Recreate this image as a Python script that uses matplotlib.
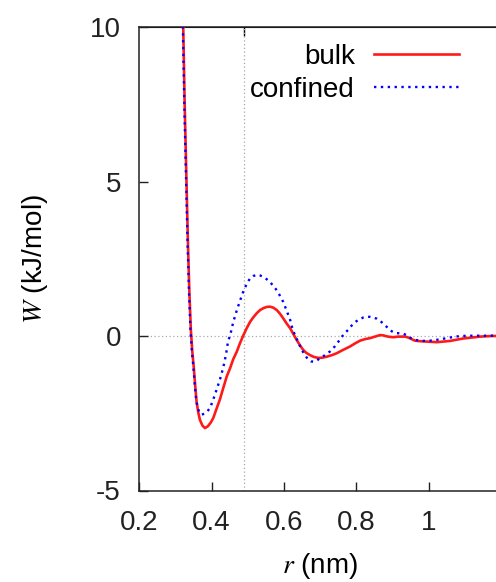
import numpy as np
import matplotlib
matplotlib.use("Agg")
import matplotlib.pyplot as plt

plt.rcParams['font.family'] = ['Liberation Sans', 'DejaVu Sans']
plt.rcParams['mathtext.fontset'] = 'stix'

# potential of mean force, bulk water
r_bulk = [0.316, 0.322, 0.326, 0.331, 0.335, 0.339, 0.343, 0.347, 0.351, 0.355,
          0.359, 0.364, 0.368, 0.375, 0.382, 0.390, 0.398, 0.405, 0.414, 0.423,
          0.432, 0.442, 0.451, 0.460, 0.470, 0.478, 0.487, 0.497, 0.506, 0.515,
          0.525, 0.534, 0.543, 0.552, 0.561, 0.570, 0.580, 0.589, 0.598, 0.607,
          0.617, 0.626, 0.635, 0.644, 0.653, 0.662, 0.672, 0.683, 0.695, 0.706,
          0.718, 0.732, 0.745, 0.763, 0.782, 0.796, 0.810, 0.824, 0.837, 0.851,
          0.865, 0.874, 0.883, 0.893, 0.902, 0.914, 0.925, 0.934, 0.943, 0.952,
          0.961, 0.977, 0.993, 1.007, 1.021, 1.040, 1.058, 1.076, 1.095, 1.118,
          1.141, 1.174, 1.200]
w_bulk = [12.0, 10.0, 7.5, 5.0, 3.0, 1.4, 0.2, -0.5, -1.0, -1.6,
          -2.15, -2.5, -2.71, -2.9, -2.98, -2.92, -2.8, -2.65, -2.35, -2.06,
          -1.7, -1.31, -1.05, -0.75, -0.5, -0.25, 0.0, 0.25, 0.45, 0.6,
          0.74, 0.84, 0.9, 0.94, 0.95, 0.92, 0.84, 0.72, 0.57, 0.41,
          0.25, 0.06, -0.13, -0.3, -0.45, -0.55, -0.62, -0.68, -0.71, -0.7,
          -0.67, -0.62, -0.56, -0.45, -0.34, -0.24, -0.15, -0.1, -0.07, -0.02,
          0.03, 0.02, -0.01, -0.03, -0.04, -0.02, -0.02, -0.02, -0.05, -0.1,
          -0.15, -0.17, -0.18, -0.19, -0.2, -0.18, -0.16, -0.12, -0.08, -0.05,
          -0.02, 0.0, 0.0]

# potential of mean force, confined water
r_conf = [0.316, 0.321, 0.325, 0.330, 0.334, 0.338, 0.342, 0.346, 0.350, 0.354,
          0.358, 0.364, 0.373, 0.382, 0.389, 0.396, 0.405, 0.414, 0.424, 0.433,
          0.440, 0.446, 0.451, 0.460, 0.470, 0.479, 0.488, 0.497, 0.506, 0.515,
          0.525, 0.534, 0.543, 0.552, 0.561, 0.570, 0.580, 0.589, 0.598, 0.607,
          0.617, 0.623, 0.630, 0.640, 0.649, 0.658, 0.667, 0.674, 0.681, 0.690,
          0.699, 0.713, 0.727, 0.740, 0.754, 0.765, 0.777, 0.786, 0.796, 0.808,
          0.819, 0.828, 0.837, 0.846, 0.856, 0.865, 0.874, 0.883, 0.892, 0.902,
          0.911, 0.925, 0.938, 0.947, 0.957, 0.968, 0.980, 1.003, 1.030, 1.058,
          1.086, 1.123, 1.174, 1.200]
w_conf = [12.0, 10.0, 7.5, 5.0, 3.0, 1.4, 0.2, -0.5, -1.0, -1.6,
          -2.1, -2.4, -2.55, -2.5, -2.43, -2.33, -2.05, -1.74, -1.38, -0.99,
          -0.6, -0.15, 0.0, 0.45, 0.84, 1.15, 1.45, 1.68, 1.86, 1.94,
          1.98, 1.96, 1.91, 1.84, 1.75, 1.63, 1.48, 1.3, 1.1, 0.83,
          0.52, 0.25, 0.03, -0.22, -0.45, -0.62, -0.77, -0.82, -0.83, -0.8,
          -0.72, -0.62, -0.5, -0.34, -0.12, 0.06, 0.2, 0.33, 0.45, 0.54,
          0.6, 0.62, 0.62, 0.6, 0.56, 0.49, 0.4, 0.3, 0.19, 0.12,
          0.09, 0.09, 0.03, -0.05, -0.11, -0.14, -0.16, -0.15, -0.11, -0.05,
          0.0, 0.01, 0.01, 0.01]

x_ticks = [0.2, 0.4, 0.6, 0.8, 1.0]
x_tick_labels = ['0.2', '0.4', '0.6', '0.8', '1']
y_ticks = [-5, 0, 5, 10]
y_tick_labels = ['-5', '0', '5', '10']
r_mark = 0.49

FS = 20
W, H = 496, 582
fig = plt.figure(figsize=(W / 100, H / 100), dpi=100)
left, right, top, bottom = 139, 501.5, 27, 490.5
ax = fig.add_axes([left / W, 1 - bottom / H, (right - left) / W, (bottom - top) / H])

ax.axhline(0, color='#aaaaaa', lw=0.9, ls=(0, (1, 2)), zorder=1)
ax.axvline(r_mark, color='#aaaaaa', lw=0.9, ls=(0, (1, 2)), zorder=1)

ax.plot(r_bulk, w_bulk, color='#ff1a1a', lw=1.9, label='bulk', zorder=3)
ax.plot(r_conf, w_conf, color='#0000ff', lw=1.7, ls=(0, (1, 1.9)),
        label='confined', zorder=4)

ax.set_xlim(0.2, 1.2)
ax.set_ylim(-5, 10)
ax.set_xticks(x_ticks)
ax.set_xticklabels(x_tick_labels)
ax.set_yticks(y_ticks)
ax.set_yticklabels(y_tick_labels)
ax.tick_params(direction='in', length=6.5, width=1, labelsize=FS,
               colors='#222222')
ax.tick_params(axis='x', pad=14)
ax.tick_params(axis='y', pad=13)
for s in ax.spines.values():
    s.set_linewidth(1.1)
    s.set_color('#222222')

top_ax = ax.secondary_xaxis('top')
top_ax.set_xticks([r_mark])
top_ax.tick_params(direction='in', length=6.5, width=1, labeltop=False)

ax.set_xlabel(r'$r$ (nm)', fontsize=FS, labelpad=11)
ax.set_ylabel(r'$W$ (kJ/mol)', fontsize=FS, labelpad=29)

leg = ax.legend(loc='upper right', bbox_to_anchor=(0.891, 0.97),
                frameon=True, fontsize=FS, markerfirst=False,
                handlelength=3.05, handletextpad=0.7, labelspacing=0.25,
                borderpad=0.1, borderaxespad=0)
leg.get_frame().set_facecolor('white')
leg.get_frame().set_edgecolor('none')
leg.get_frame().set_alpha(1)
leg.set_zorder(5)

fig.savefig('out.png', dpi=100)
